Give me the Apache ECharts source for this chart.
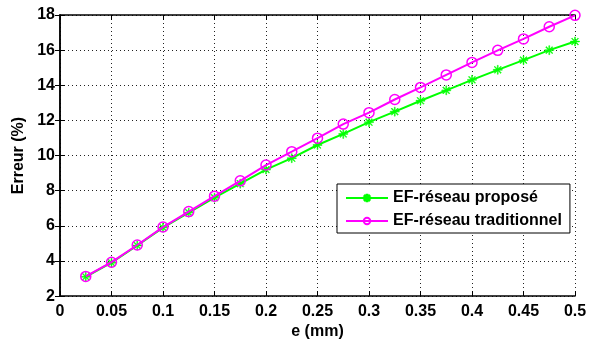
<!DOCTYPE html>
<html><head><meta charset="utf-8">
<script src="https://cdn.jsdelivr.net/npm/echarts@6/dist/echarts.min.js"></script>
<style>html,body{margin:0;padding:0;background:#fff}#c{width:594px;height:345px}</style>
</head><body><div id="c"></div>
<script>
var xValues = [0.025,0.05,0.075,0.1,0.125,0.15,0.175,0.2,0.225,0.25,0.275,0.3,0.325,0.35,0.375,0.4,0.425,0.45,0.475,0.5];
var propose = [3.1,3.9,4.88,5.9,6.75,7.6,8.4,9.2,9.85,10.6,11.23,11.9,12.5,13.12,13.71,14.31,14.88,15.43,16.0,16.49];
var traditionnel = [3.12,3.93,4.91,5.93,6.81,7.69,8.56,9.46,10.22,10.99,11.79,12.44,13.19,13.88,14.59,15.3,15.99,16.64,17.33,17.98];
var seriesNames = ['EF-réseau proposé','EF-réseau traditionnel'];
var xTitle = 'e (mm)', yTitle = 'Erreur (%)';

var star = 'path://M9,0L11,0L11,20L9,20Z M0,9L20,9L20,11L0,11Z M2,3.4L3.4,2L18,16.6L16.6,18Z M16.6,2L18,3.4L3.4,18L2,16.6Z';
function pairs(v){ return xValues.map(function(x,i){return [x,v[i]];}); }
var font = 'Liberation Sans, Arial, sans-serif';
var lbl = {color:'#000', fontSize:16, fontWeight:'bold', fontFamily:font};
var chart = echarts.init(document.getElementById('c'));
var axLine = {show:true, lineStyle:{color:'#000', width:1.5}};
var grid = {show:true, lineStyle:{type:[1,3], color:'#222', width:1}};
chart.setOption({
  animation:false,
  grid:{left:60, right:19, top:15, bottom:44},
  xAxis:[{type:'value', min:0, max:0.5, interval:0.05, position:'bottom',
    axisLine:axLine, axisTick:{show:true, inside:true, length:5, lineStyle:{color:'#000'}},
    axisLabel:Object.assign({margin:7, formatter:function(v){return +v.toFixed(2)+'';}}, lbl),
    splitLine:grid,
    name:xTitle, nameLocation:'middle', nameGap:22, nameTextStyle:{color:'#000', fontSize:16, fontWeight:'bold', fontFamily:font, verticalAlign:'top'}},
   {type:'value', min:0, max:0.5, interval:0.05, position:'top',
    axisLine:axLine, axisTick:{show:true, inside:true, length:5, lineStyle:{color:'#000'}},
    axisLabel:{show:false}, splitLine:{show:false}}],
  yAxis:[{type:'value', min:2, max:18, interval:2, position:'left',
    axisLine:axLine, axisTick:{show:true, inside:true, length:5, lineStyle:{color:'#000'}},
    axisLabel:Object.assign({margin:5}, lbl),
    splitLine:grid,
    name:yTitle, nameLocation:'middle', nameGap:29, nameRotate:90, nameTextStyle:{color:'#000', fontSize:16, fontWeight:'bold', fontFamily:font}},
   {type:'value', min:2, max:18, interval:2, position:'right',
    axisLine:axLine, axisTick:{show:true, inside:true, length:5, lineStyle:{color:'#000'}},
    axisLabel:{show:false}, splitLine:{show:false}}],
  legend:{orient:'vertical', left:337, top:184, backgroundColor:'#fff',
    borderColor:'#000', borderWidth:1, padding:[6,8,4,8], itemWidth:42, itemHeight:8, itemGap:7,
    textStyle:{color:'#000', fontSize:16, fontWeight:'bold', fontFamily:font}, data:seriesNames},
  series:[
    {name:seriesNames[0], type:'line', data:pairs(propose), symbol:star, symbolSize:9,
     lineStyle:{color:'#00ff00', width:2}, itemStyle:{color:'#00ff00', borderColor:'#00ff00', borderWidth:0.5}, z:2},
    {name:seriesNames[1], type:'line', data:pairs(traditionnel), symbol:'circle', symbolSize:10,
     lineStyle:{color:'#ff00ff', width:2}, itemStyle:{color:'rgba(255,255,255,0)', borderColor:'#ff00ff', borderWidth:1.5}, z:3}
  ]
});
</script></body></html>
